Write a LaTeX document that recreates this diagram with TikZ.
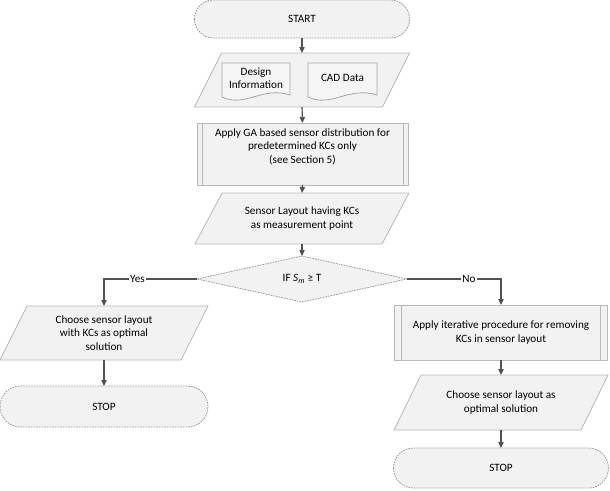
\documentclass[tikz,border=0pt]{standalone}
\usepackage{fontspec}
\setmainfont{Carlito}
\usetikzlibrary{arrows.meta}
\pgfdeclarelayer{bg}
\pgfsetlayers{bg,main}
\begin{document}
\begin{tikzpicture}[x=0.75pt,y=-0.75pt,
  font=\fontsize{8.4}{10.2}\selectfont,
  box/.style={inner sep=0pt, outer sep=0pt, align=center},
  shp/.style={fill=black!5, draw=black!28, line width=0.6pt},
  dotb/.style={fill=black!5, draw=black!40, line width=0.6pt, dash pattern=on 1.2pt off 0.8pt},
  docshp/.style={fill=black!4, draw=black!35, line width=0.6pt},
  conn/.style={draw=black!68, line width=0.9pt, -{Triangle[length=4.5pt,width=4pt]}},
  lbl/.style={fill=white, inner sep=1pt}]
\useasboundingbox (0,0) rectangle (610,490);

% nodes
\node[box, minimum width=161.25pt, minimum height=28.5pt] (start) at (302,19) {START};
\node[box, minimum width=161.25pt, minimum height=40.5pt] (inp) at (302,80) {};
\node[box] (doc1) at (256,78) {Design\\Information};
\node[box] (doc2) at (342.5,78) {CAD Data};
\node[box, minimum width=158.25pt, minimum height=46.5pt] (ga) at (302.5,154) {Apply GA based sensor distribution for\\predetermined KCs only\\(see Section 5)\\[2pt]};
\node[box, minimum width=160.5pt, minimum height=38.25pt] (sens) at (302,218.5) {Sensor Layout having KCs\\as measurement point};
\node[box, minimum width=157.5pt, minimum height=34.5pt] (dia) at (302,279) {IF \textit{S}\textsubscript{\textit{m}} ≥ T};
\node[box, minimum width=156pt, minimum height=40.5pt] (lsol) at (104,333) {Choose sensor layout\\with KCs as optimal\\solution};
\node[box, minimum width=156pt, minimum height=30.75pt] (lstop) at (104,406.5) {STOP};
\node[box, minimum width=159.75pt, minimum height=41.25pt] (rproc) at (501,332.5) {Apply iterative procedure for removing\\KCs in sensor layout};
\node[box, minimum width=160.5pt, minimum height=41.25pt] (rsol) at (501,402.5) {Choose sensor layout as\\optimal solution};
\node[box, minimum width=161.25pt, minimum height=30pt] (rstop) at (501,468) {STOP};

% shapes
\begin{pgfonlayer}{bg}
\draw[dotb, rounded corners=14.2pt] (start.north west) rectangle (start.south east);
\draw[shp] ([xshift=20.25pt]inp.north west) -- (inp.north east) -- ([xshift=-20.25pt]inp.south east) -- (inp.south west) -- cycle;
\draw[docshp] (222,63) -- (222,97) .. controls (245,108) and (262,86) .. (290,95) -- (290,63) -- cycle;
\draw[docshp] (308,63) -- (308,97) .. controls (331,108) and (349,86) .. (377,95) -- (377,63) -- cycle;
\draw[shp] (ga.north west) rectangle (ga.south east);
\draw[shp] ([xshift=3.75pt]ga.north west) -- ([xshift=3.75pt]ga.south west);
\draw[shp] ([xshift=-3.75pt]ga.north east) -- ([xshift=-3.75pt]ga.south east);
\draw[shp] ([xshift=20.25pt]sens.north west) -- (sens.north east) -- ([xshift=-20.25pt]sens.south east) -- (sens.south west) -- cycle;
\draw[dotb] (dia.north) -- (dia.east) -- (dia.south) -- (dia.west) -- cycle;
\draw[shp] ([xshift=20.25pt]lsol.north west) -- (lsol.north east) -- ([xshift=-20.25pt]lsol.south east) -- (lsol.south west) -- cycle;
\draw[dotb, rounded corners=15.3pt] (lstop.north west) rectangle (lstop.south east);
\draw[shp] (rproc.north west) rectangle (rproc.south east);
\draw[shp] ([xshift=5.25pt]rproc.north west) -- ([xshift=5.25pt]rproc.south west);
\draw[shp] ([xshift=-5.25pt]rproc.north east) -- ([xshift=-5.25pt]rproc.south east);
\draw[shp] ([xshift=20.25pt]rsol.north west) -- (rsol.north east) -- ([xshift=-20.25pt]rsol.south east) -- (rsol.south west) -- cycle;
\draw[dotb, rounded corners=14.9pt] (rstop.north west) rectangle (rstop.south east);
\end{pgfonlayer}

% connectors
\draw[conn] (start.south) -- (inp.north);
\draw[conn] (inp.south) -- (ga.north);
\draw[conn] (ga.south) -- (sens.north);
\draw[conn] (sens.south) -- (dia.north);
\draw[conn] (dia.west) -| node[lbl, pos=0.32] {Yes} (lsol.north);
\draw[conn] (dia.east) -| node[lbl, pos=0.33] {No} (rproc.north);
\draw[conn] (lsol.south) -- (lstop.north);
\draw[conn] (rproc.south) -- (rsol.north);
\draw[conn] (rsol.south) -- (rstop.north);
\end{tikzpicture}
\end{document}
